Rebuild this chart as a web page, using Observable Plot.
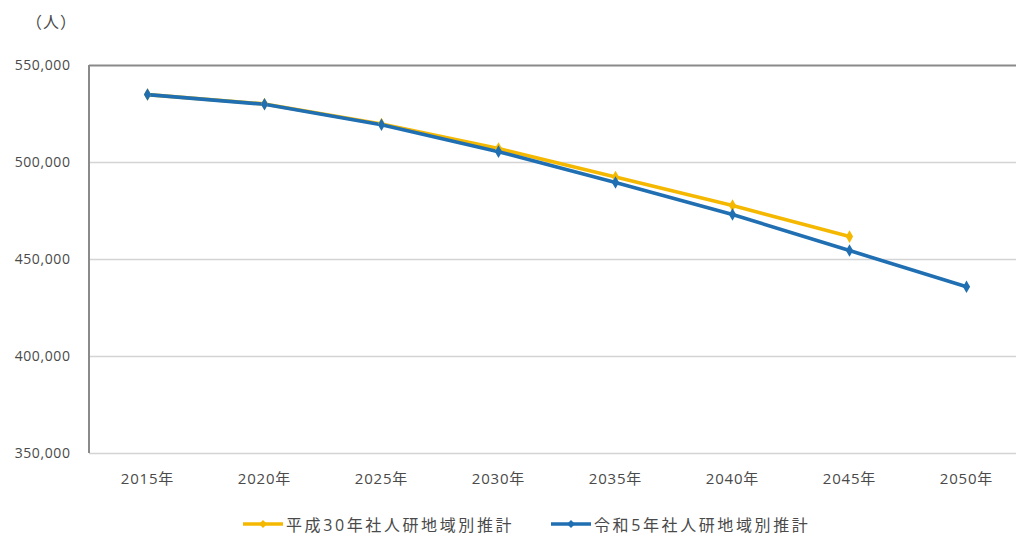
<!DOCTYPE html>
<html lang="ja">
<head>
<meta charset="utf-8">
<script src="https://cdn.jsdelivr.net/npm/d3@7"></script>
<script src="https://cdn.jsdelivr.net/npm/@observablehq/plot@0.6"></script>
<style>
  html, body { margin: 0; padding: 0; background: #fff; }
  #wrap { position: relative; width: 1016px; height: 539px; font-family: "Open Sans", "Noto Sans CJK JP", sans-serif; color: #4a4a4a; }
  #unit { position: absolute; left: 26px; top: 9px; font-size: 16px; letter-spacing: 1px; }
  #chart { position: absolute; left: 0; top: 0; }
  #legend { position: absolute; top: 512px; left: 0; width: 1016px; height: 24px; font-size: 16px; }
  .item { position: absolute; top: 0; display: flex; align-items: center; letter-spacing: 2.6px; white-space: nowrap; }
  .item svg { margin-right: 2px; }
</style>
</head>
<body>
<div id="wrap">
  <div id="chart"></div>
  <div id="unit">（人）</div>
  <div id="legend"></div>
</div>
<script>
// Population projections by year
const years = ["2015年", "2020年", "2025年", "2030年", "2035年", "2040年", "2045年", "2050年"];
const seriesNames = ["平成30年社人研地域別推計", "令和5年社人研地域別推計"];
const seriesColors = ["#F5B800", "#1F6FB2"];
const h30Values = [535000, 530200, 519800, 507200, 492500, 477800, 461800];
const r5Values = [535000, 530000, 519500, 505600, 489700, 473200, 454600, 436000];
const yTicks = [350000, 400000, 450000, 500000, 550000];

const rows = [];
h30Values.forEach((v, i) => rows.push({ year: years[i], value: v, series: seriesNames[0] }));
r5Values.forEach((v, i) => rows.push({ year: years[i], value: v, series: seriesNames[1] }));

const fmt = d3.format(",");

const chart = Plot.plot({
  width: 1016,
  height: 500,
  marginTop: 65,
  marginBottom: 47,
  marginLeft: 89,
  marginRight: 0,
  style: { fontFamily: "'Open Sans', 'Noto Sans CJK JP', sans-serif", color: "#4a4a4a", background: "#fff" },
  x: { type: "point", domain: years, range: [146, 967], padding: 0, label: null },
  y: { domain: [350000, 550000], label: null },
  color: { domain: seriesNames, range: seriesColors },
  marks: [
    Plot.ruleY(yTicks.filter(d => d < 550000), { y: d => d, stroke: "#d4d4d4", strokeWidth: 1.5 }),
    Plot.ruleY([550000], { y: d => d, stroke: "#8a8a8a", strokeWidth: 2 }),
    Plot.axisY({ ticks: yTicks, tickSize: 0, tickPadding: 19, tickFormat: fmt, fontSize: 14, fill: "#4a4a4a", label: null }),
    Plot.axisX({ tickSize: 0, tickPadding: 20, fontSize: 15, fill: "#4a4a4a", label: null }),
    Plot.line(rows, { x: "year", y: "value", z: "series", stroke: "series", strokeWidth: 3.6, strokeLinejoin: "round", strokeLinecap: "round" }),
    Plot.dot(rows, { x: "year", y: "value", fill: "series", symbol: "diamond", r: 3.8, stroke: "none" })
  ]
});

// letter spacing for the tick labels
d3.select(chart).selectAll("[aria-label='y-axis tick label'] text").style("letter-spacing", "0.6px");
d3.select(chart).selectAll("[aria-label='x-axis tick label'] text").style("letter-spacing", "0.8px");

// left frame line
d3.select(chart).append("line")
  .attr("x1", 89).attr("x2", 89).attr("y1", 65).attr("y2", 453)
  .attr("stroke", "#8a8a8a").attr("stroke-width", 2);

document.getElementById("chart").appendChild(chart);

// legend
const legend = document.getElementById("legend");
const legendX = [242, 550];
seriesNames.forEach((name, i) => {
  const item = document.createElement("div");
  item.className = "item";
  item.style.left = legendX[i] + "px";
  item.innerHTML =
    `<svg width="42" height="24"><line x1="1" x2="41" y1="12" y2="12" stroke="${seriesColors[i]}" stroke-width="3.6"/>` +
    `<path d="M21,8 L25,12 L21,16 L17,12 Z" fill="${seriesColors[i]}"/></svg><span>${name}</span>`;
  legend.appendChild(item);
});
</script>
</body>
</html>
